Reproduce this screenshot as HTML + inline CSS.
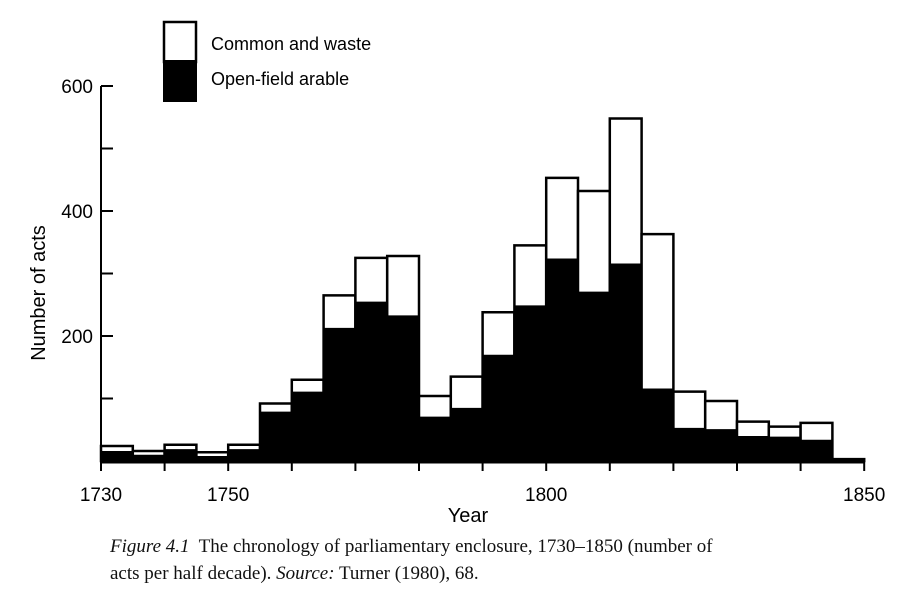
<!DOCTYPE html>
<html><head><meta charset="utf-8"><style>
body{margin:0;background:#fff;width:920px;height:614px;overflow:hidden;}
svg text{font-family:"Liberation Sans",Arial,sans-serif;fill:#000;}
.cap{position:absolute;left:110px;top:533px;font-family:"Liberation Serif",serif;font-size:19px;line-height:27px;color:#111;}
</style></head><body>
<svg id="chart" width="920" height="614" style="position:absolute;left:0;top:0"></svg>
<div class="cap"><i>Figure 4.1</i>&nbsp; The chronology of parliamentary enclosure, 1730–1850 (number of<br>acts per half decade). <i>Source:</i> Turner (1980), 68.</div>
<script>
const years=[1730,1735,1740,1745,1750,1755,1760,1765,1770,1775,1780,1785,1790,1795,1800,1805,1810,1815,1820,1825,1830,1835,1840,1845];
const totals=[24,16,26,14,26,92,130,265,325,328,104,135,238,345,453,432,548,363,111,96,63,55,61,3];
const arable=[16,10,19,8,19,79,111,213,255,233,71,85,170,249,324,271,316,116,53,51,40,39,34,0];
const yTicks=[100,200,300,400,500,600];
const yLabels=[200,400,600];
const xTicks=[1730,1740,1750,1760,1770,1780,1790,1800,1810,1820,1830,1840,1850];
const xLabels=[1730,1750,1800,1850];
const NS="http://www.w3.org/2000/svg";
const svg=document.getElementById('chart');
const X=y=>101+(y-1730)*6.36;
const Y=v=>461-v*0.625;
function mk(t,a){const e=document.createElementNS(NS,t);for(const k in a)e.setAttribute(k,a[k]);svg.appendChild(e);return e;}
years.forEach((yr,i)=>{
  const x0=X(yr),x1=X(yr+5);
  const w=mk('rect',{x:x0,y:Y(totals[i]),width:x1-x0,height:Y(0)-Y(totals[i]),fill:'#fff',stroke:'#000','stroke-width':2.5});
  
  
  const b=mk('rect',{x:x0,y:Y(arable[i]),width:x1-x0,height:Y(0)-Y(arable[i]),fill:'#000'});
  
  
});
const ax=mk('line',{x1:X(1730),y1:Y(0),x2:X(1730),y2:Y(600),stroke:'#000','stroke-width':2});


const bx=mk('line',{x1:X(1730),y1:Y(0)+1,x2:X(1850),y2:Y(0)+1,stroke:'#000','stroke-width':3});


yTicks.forEach(v=>{
  const t=mk('line',{x1:X(1730),y1:Y(v),x2:X(1730)+12,y2:Y(v),stroke:'#000','stroke-width':2});
  
  
});
yLabels.forEach(v=>{
  const t=mk('text',{x:X(1730)-8,y:Y(v)+7,'text-anchor':'end','font-size':19});
  t.textContent=v;
  
  
});
xTicks.forEach(v=>{
  const t=mk('line',{x1:X(v),y1:Y(0),x2:X(v),y2:Y(0)+10,stroke:'#000','stroke-width':2});
  
  
});
xLabels.forEach(v=>{
  const t=mk('text',{x:X(v),y:501,'text-anchor':'middle','font-size':19});
  t.textContent=v;
  
  
});
const xt=mk('text',{x:468,y:522,'text-anchor':'middle','font-size':20});
xt.textContent='Year';


const yt=mk('text',{x:0,y:0,'text-anchor':'middle','font-size':20,transform:'translate(45,293) rotate(-90)'});
yt.textContent='Number of acts';


const lw=mk('rect',{x:164,y:22,width:32,height:40,fill:'#fff',stroke:'#000','stroke-width':2.5});


const lb=mk('rect',{x:163,y:60,width:34,height:42,fill:'#000'});


const l1=mk('text',{x:211,y:50,'font-size':18});
l1.textContent='Common and waste';


const l2=mk('text',{x:211,y:85,'font-size':18});
l2.textContent='Open-field arable';


</script>
</body></html>
